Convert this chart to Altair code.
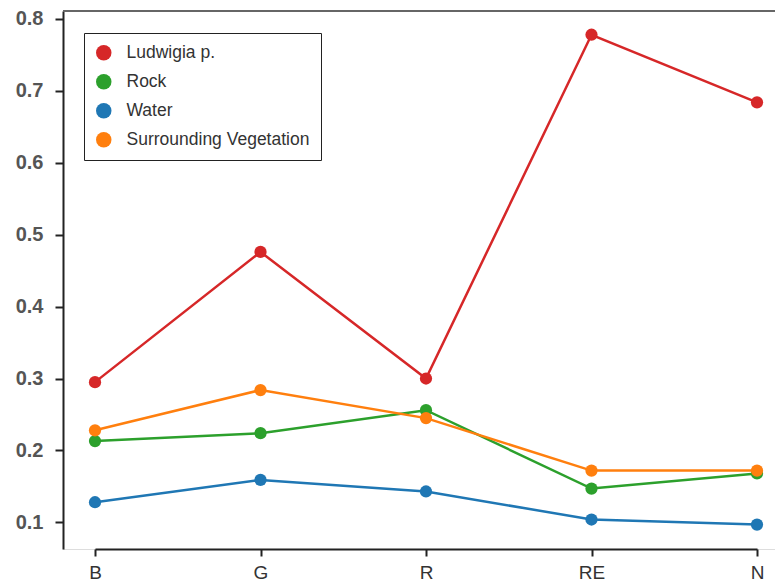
import altair as alt
import pandas as pd

bands = ["B", "G", "R", "RE", "N"]
series = ["Ludwigia p.", "Rock", "Water", "Surrounding Vegetation"]
ludwigia = [0.295, 0.476, 0.300, 0.778, 0.684]
rock = [0.213, 0.224, 0.256, 0.147, 0.168]
water = [0.128, 0.159, 0.143, 0.104, 0.097]
vegetation = [0.228, 0.284, 0.245, 0.172, 0.172]
colors = ["#d62728", "#2ca02c", "#1f77b4", "#ff7f0e"]
y_ticks = [0.1, 0.2, 0.3, 0.4, 0.5, 0.6, 0.7, 0.8]

rows = []
for name, vals in zip(series, [ludwigia, rock, water, vegetation]):
    for b, v in zip(bands, vals):
        rows.append({"band": b, "value": v, "series": name})
df = pd.DataFrame(rows)

color = alt.Color(
    "series:N",
    scale=alt.Scale(domain=series, range=colors),
    sort=series,
    legend=alt.Legend(
        title=None,
        orient="none",
        legendX=21,
        legendY=22,
        strokeColor="#222",
        fillColor="white",
        padding=11,
        symbolType="circle",
        symbolSize=240,
        symbolStrokeWidth=0,
        symbolOpacity=1,
        labelFontSize=17.5,
        labelFont="Liberation Sans",
        labelColor="#333",
        labelOffset=14,
        labelLimit=400,
        rowPadding=10,
        cornerRadius=0,
    ),
)

x = alt.X(
    "band:N",
    sort=bands,
    scale=alt.Scale(domain=bands, range=[32, 694], padding=0),
    axis=alt.Axis(
        title=None,
        labelAngle=0,
        labelFontSize=19,
        labelFont="Liberation Sans",
        labelColor="#333",
        labelPadding=7,
        tickColor="#222",
        tickSize=7,
        tickWidth=2,
        domainColor="#222",
        domainWidth=2,
        grid=False,
    ),
)
y = alt.Y(
    "value:Q",
    scale=alt.Scale(domain=[0.063, 0.811], nice=False, zero=False),
    axis=alt.Axis(
        title=None,
        values=y_ticks,
        format=".1f",
        labelFontSize=20,
        labelFontWeight="bold",
        labelFont="Liberation Sans",
        labelColor="#555",
        labelPadding=12,
        tickColor="#222",
        tickSize=8,
        tickWidth=2,
        domainColor="#222",
        domainWidth=2,
        grid=False,
    ),
)

base = alt.Chart(df).encode(x=x, y=y, color=color)
lines = base.mark_line(strokeWidth=2.5)
points = base.mark_point(filled=True, size=150, opacity=1)
top_border = alt.Chart(df).mark_rule(color="#666", strokeWidth=2).encode(
    x=alt.value(0), x2=alt.value(712), y=alt.value(0)
)

chart = (
    alt.layer(top_border, lines, points)
    .properties(
        width=712,
        height=538,
        autosize=alt.AutoSizeParams(type="none"),
        padding={"left": 55, "top": 3, "right": 0, "bottom": 38},
    )
    .configure_view(stroke=None)
    .configure(background="white")
)

chart.save("out.html", embed_options={"renderer": "svg", "actions": False})
